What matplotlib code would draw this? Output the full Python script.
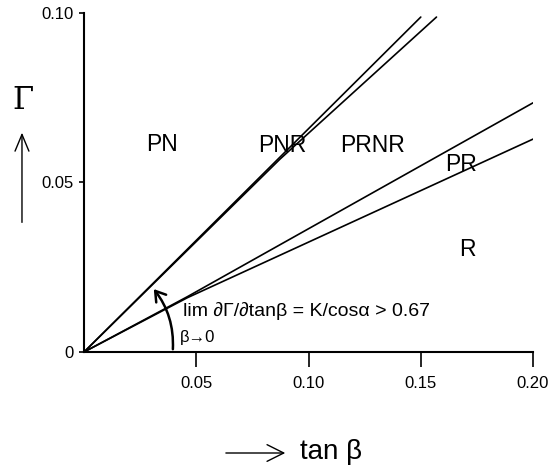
import matplotlib
matplotlib.use('Agg')
from matplotlib import pyplot as plt
from matplotlib.patches import FancyArrowPatch

plt.rcParams['font.family'] = ['Liberation Sans Narrow', 'Liberation Sans', 'DejaVu Sans']

# boundary lines (tan beta, Gamma); each pair nearly coincides near the origin
upper_a_x = [0, 0.0873, 0.150]
upper_a_y = [0, 0.0575, 0.0988]
upper_b_x = [0, 0.0873, 0.157]
upper_b_y = [0, 0.0569, 0.0988]
lower_a_x = [0, 0.046, 0.200]
lower_a_y = [0, 0.0163, 0.0735]
lower_b_x = [0, 0.046, 0.200]
lower_b_y = [0, 0.0160, 0.0628]

# region names and where they sit
regions = ['PN', 'PNR', 'PRNR', 'PR', 'R']
region_x = [0.0347, 0.0882, 0.1287, 0.168, 0.1706]
region_y = [0.0611, 0.0608, 0.0608, 0.0552, 0.0301]

xticks = [0.05, 0.10, 0.15, 0.20]
xticklabels = ['0.05', '0.10', '0.15', '0.20']
yticks = [0, 0.05, 0.10]
yticklabels = ['0', '0.05', '0.10']

fig = plt.figure(figsize=(5.55, 4.74), dpi=100)
ax = fig.add_axes([0.1514, 0.2574, 0.809, 0.7152])

for xs, ys in [(upper_a_x, upper_a_y), (upper_b_x, upper_b_y),
               (lower_a_x, lower_a_y), (lower_b_x, lower_b_y)]:
    ax.plot(xs, ys, color='black', lw=1.2, solid_capstyle='round')

for name, x, y in zip(regions, region_x, region_y):
    ax.text(x, y, name, fontsize=16.5, ha='center', va='center')

# curved arrow sweeping from the x axis to the steep line
arc = FancyArrowPatch((0.0395, 0.0), (0.0303, 0.0192),
                      connectionstyle='arc3,rad=0.2',
                      arrowstyle='->,head_length=7,head_width=4.5',
                      color='black', lw=1.8, mutation_scale=1)
ax.add_patch(arc)

ax.text(0.0441, 0.0121, 'lim \u2202\u0393/\u2202tan\u03b2 = K/cos\u03b1 > 0.67',
        fontsize=14, ha='left', va='center')
ax.text(0.0428, 0.0044, '\u03b2\u21920', fontsize=12, ha='left', va='center')

ax.set_xlim(0, 0.2)
ax.set_ylim(0, 0.1)
ax.spines['top'].set_visible(False)
ax.spines['right'].set_visible(False)
ax.spines['left'].set_linewidth(1.5)
ax.spines['bottom'].set_linewidth(1.5)

ax.set_xticks(xticks)
ax.set_xticklabels(xticklabels)
ax.set_yticks(yticks)
ax.set_yticklabels(yticklabels)
ax.tick_params(axis='x', direction='out', length=11, width=1.2, pad=6, labelsize=12)
ax.tick_params(axis='y', direction='out', length=3.5, width=1.2, pad=4, labelsize=12)

# axis names with arrows
fig.text(0.0414, 0.789, '\u0393', fontsize=22, ha='center', va='center',
         family=['DejaVu Serif'])
fig.add_artist(FancyArrowPatch((0.0396, 0.525), (0.0396, 0.726),
                               transform=fig.transFigure,
                               arrowstyle='->,head_length=12,head_width=5',
                               color='black', lw=1.0, mutation_scale=1))
fig.add_artist(FancyArrowPatch((0.402, 0.0443), (0.519, 0.0443),
                               transform=fig.transFigure,
                               arrowstyle='->,head_length=12,head_width=6',
                               color='black', lw=1.0, mutation_scale=1))
fig.text(0.5405, 0.046, 'tan \u03b2', fontsize=20, ha='left', va='center')

fig.savefig('out.png', dpi=100)
